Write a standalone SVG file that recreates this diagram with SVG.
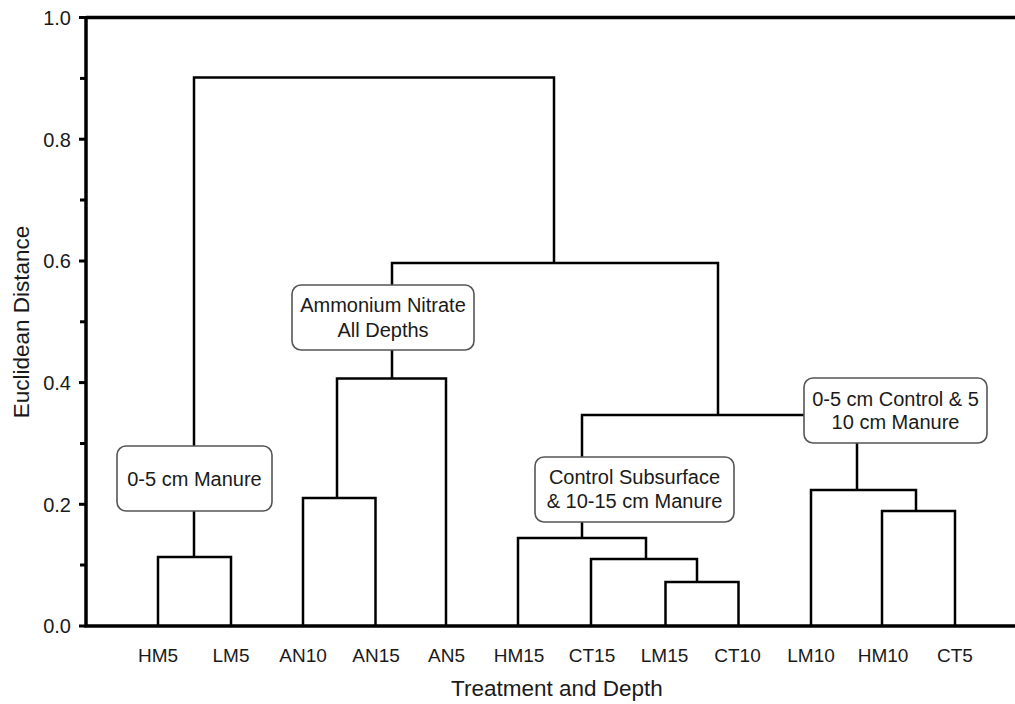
<svg xmlns="http://www.w3.org/2000/svg" width="1015" height="704" viewBox="0 0 1015 704">
<style>
text{font-family:"Liberation Sans",Arial,sans-serif;fill:#1a1a1a}
.tick{font-size:20px;text-anchor:end}
.leaf{font-size:19px;text-anchor:middle}
.title{font-size:22.5px;text-anchor:middle}
.lbl{font-size:20px;text-anchor:middle}
.axis{stroke:#000;stroke-width:3.5;fill:none}
.tk{stroke:#000;stroke-width:3}
.den{stroke:#000;stroke-width:2.5;fill:none;stroke-linejoin:miter}
.box{fill:#fff;stroke:#555;stroke-width:1.6}
</style>
<rect width="1015" height="704" fill="#fff"/>
<g id="axes">
<path class="axis" d="M86,16 V627.7 M86,17.5 H1015 M84.3,626 H1015"/>
<g class="tk">
<line x1="79" y1="17.5" x2="86" y2="17.5"/>
<line x1="80" y1="78.4" x2="86" y2="78.4"/>
<line x1="79" y1="139.2" x2="86" y2="139.2"/>
<line x1="80" y1="200" x2="86" y2="200"/>
<line x1="79" y1="261" x2="86" y2="261"/>
<line x1="80" y1="321.8" x2="86" y2="321.8"/>
<line x1="79" y1="382.6" x2="86" y2="382.6"/>
<line x1="80" y1="443.5" x2="86" y2="443.5"/>
<line x1="79" y1="504.3" x2="86" y2="504.3"/>
<line x1="80" y1="565" x2="86" y2="565"/>
<line x1="79" y1="626" x2="86" y2="626"/>
</g>
<text class="tick" x="71" y="24.5">1.0</text>
<text class="tick" x="71" y="146.5">0.8</text>
<text class="tick" x="71" y="268">0.6</text>
<text class="tick" x="71" y="389.5">0.4</text>
<text class="tick" x="71" y="511.5">0.2</text>
<text class="tick" x="71" y="633">0.0</text>
<text class="title" transform="translate(28.5,322) rotate(-90)">Euclidean Distance</text>
<text class="title" x="557" y="696">Treatment and Depth</text>
</g>
<g id="connectors" class="den">
<path d="M158,626 V557 H231 V626"/>
<path d="M194,557 V77.5 H554 V263"/>
<path d="M392,378.5 V263 H718 V415"/>
<path d="M303,626 V498 H375.5 V626"/>
<path d="M337,498 V378.5 H446 V626"/>
<path d="M582,538 V415 H857 V490"/>
<path d="M518,626 V538 H646 V559"/>
<path d="M591,626 V559 H697 V582"/>
<path d="M665.5,626 V582 H738.5 V626"/>
<path d="M811,626 V490 H916 V511"/>
<path d="M882,626 V511 H955 V626"/>
</g>
<g id="leaves">
<text class="leaf" x="158" y="662">HM5</text>
<text class="leaf" x="231" y="662">LM5</text>
<text class="leaf" x="303" y="662">AN10</text>
<text class="leaf" x="376" y="662">AN15</text>
<text class="leaf" x="446.5" y="662">AN5</text>
<text class="leaf" x="519" y="662">HM15</text>
<text class="leaf" x="592" y="662">CT15</text>
<text class="leaf" x="664.5" y="662">LM15</text>
<text class="leaf" x="737.5" y="662">CT10</text>
<text class="leaf" x="811" y="662">LM10</text>
<text class="leaf" x="883" y="662">HM10</text>
<text class="leaf" x="955" y="662">CT5</text>
</g>
<g id="box-manure">
<rect class="box" x="117" y="446" width="155" height="65" rx="9"/>
<text class="lbl" x="194.5" y="485.5">0-5 cm Manure</text>
</g>
<g id="box-ammonium">
<rect class="box" x="292" y="285" width="182" height="65" rx="9"/>
<text class="lbl" x="383" y="312">Ammonium Nitrate</text>
<text class="lbl" x="383" y="336.5">All Depths</text>
</g>
<g id="box-control">
<rect class="box" x="535" y="457" width="199" height="65" rx="9"/>
<text class="lbl" x="634.5" y="484">Control Subsurface</text>
<text class="lbl" x="634.5" y="508">&amp; 10-15 cm Manure</text>
</g>
<g id="box-surface">
<rect class="box" x="804" y="378" width="183" height="65" rx="9"/>
<text class="lbl" x="895.5" y="405.5">0-5 cm Control &amp; 5</text>
<text class="lbl" x="895.5" y="429">10 cm Manure</text>
</g>
</svg>
